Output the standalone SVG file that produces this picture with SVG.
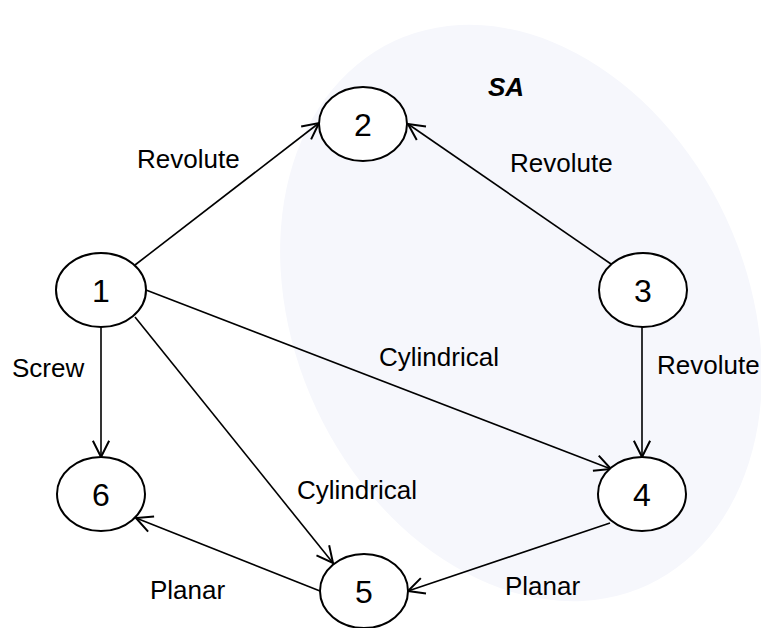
<svg xmlns="http://www.w3.org/2000/svg" width="761" height="628" viewBox="0 0 761 628">
<style>
.node ellipse{fill:#ffffff;stroke:#000000;stroke-width:2}
.node text{font-family:"Liberation Sans",Arial,sans-serif;font-size:32px;fill:#000000;text-anchor:middle}
.lbl{font-family:"Liberation Sans",Arial,sans-serif;font-size:26px;fill:#000000}
.edge{stroke:#000000;stroke-width:1.6;fill:none;marker-end:url(#arr)}
</style>
<defs>
<marker id="arr" markerUnits="userSpaceOnUse" markerWidth="20" markerHeight="20" viewBox="-14 -8 16 16" refX="0" refY="0" orient="auto">
<path d="M-13,-6.5 L0,0 L-13,6.5" fill="none" stroke="#000000" stroke-width="1.6"/>
</marker>
</defs>
<rect width="761" height="628" fill="#ffffff"/>
<g id="SA">
<ellipse cx="521" cy="313" rx="226" ry="300" transform="rotate(-25 521 313)" fill="#f6f7fc"/>
<text x="506" y="96" font-family="Liberation Sans,Arial,sans-serif" font-size="26" font-weight="bold" font-style="italic" text-anchor="middle">SA</text>
</g>
<g id="connectors">
<line class="edge" x1="135" y1="265" x2="319" y2="123"/>
<line class="edge" x1="611" y1="264" x2="408" y2="124"/>
<line class="edge" x1="146" y1="290" x2="611" y2="469"/>
<line class="edge" x1="642" y1="327" x2="642" y2="457"/>
<line class="edge" x1="101" y1="327" x2="101" y2="457"/>
<line class="edge" x1="135" y1="317" x2="333" y2="563"/>
<line class="edge" x1="610" y1="523" x2="408" y2="591"/>
<line class="edge" x1="320" y1="591" x2="136" y2="518"/>
<text class="lbl" x="137" y="168">Revolute</text>
<text class="lbl" x="510" y="172">Revolute</text>
<text class="lbl" x="379" y="366">Cylindrical</text>
<text class="lbl" x="657" y="374">Revolute</text>
<text class="lbl" x="12" y="377">Screw</text>
<text class="lbl" x="297" y="499">Cylindrical</text>
<text class="lbl" x="150" y="599">Planar</text>
<text class="lbl" x="505" y="595">Planar</text>
</g>
<g id="n1" class="node"><ellipse cx="101" cy="290" rx="45" ry="37"/><text x="101" y="302">1</text></g>
<g id="n2" class="node"><ellipse cx="363" cy="124" rx="44" ry="37"/><text x="363" y="136">2</text></g>
<g id="n3" class="node"><ellipse cx="643" cy="290" rx="44" ry="37"/><text x="643" y="302">3</text></g>
<g id="n4" class="node"><ellipse cx="642" cy="494" rx="44" ry="37"/><text x="642" y="506">4</text></g>
<g id="n5" class="node"><ellipse cx="364" cy="591" rx="44" ry="37"/><text x="364" y="603">5</text></g>
<g id="n6" class="node"><ellipse cx="101" cy="494" rx="44" ry="37"/><text x="101" y="506">6</text></g>
</svg>
